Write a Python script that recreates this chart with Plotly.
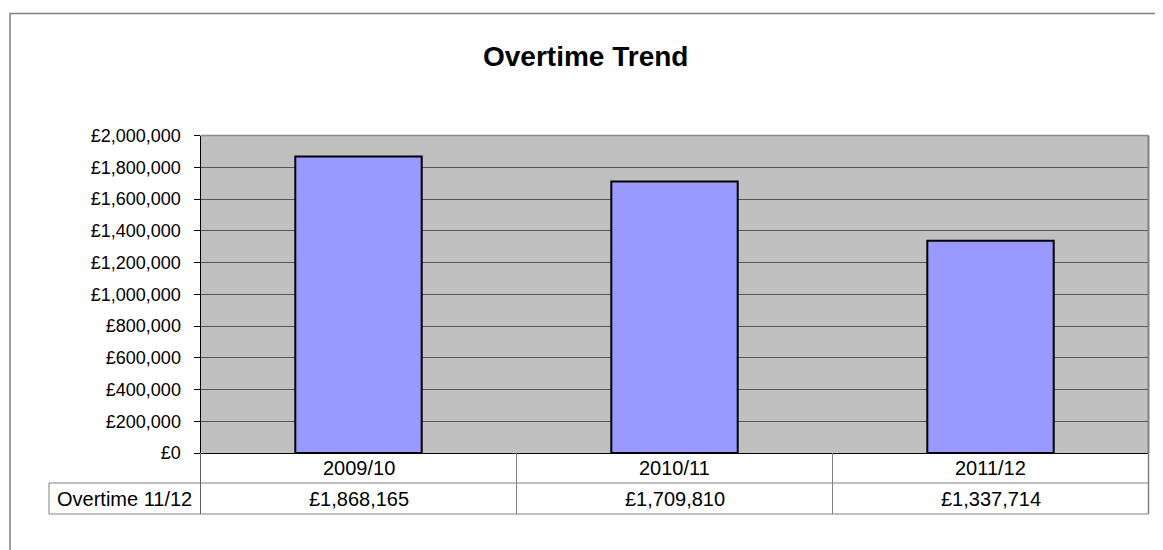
import plotly.graph_objects as go

categories = ["2009/10", "2010/11", "2011/12"]
values = [1868165, 1709810, 1337714]
series_name = "Overtime 11/12"
title_text = "Overtime Trend"
y_ticks = list(range(0, 2000001, 200000))

# page body has an 8px margin; the figure is sized to fill the rest of the window
OFF = 8
W, H = 1163 - OFF, 550 - OFF
FONT = "Liberation Sans, Arial, sans-serif"

def px_x(p):
    return (p - OFF) / W

def px_y(p):
    return 1 - (p - OFF) / H

plot_left, plot_right = 200.5, 1148.5
plot_top, plot_bottom = 135.5, 453
row1_bottom, row2_bottom = 483, 514
table_left = 49

fig = go.Figure()
fig.add_trace(go.Bar(
    x=list(range(len(categories))), y=values, width=0.4,
    marker=dict(color="#9999FF", line=dict(color="black", width=2)),
    showlegend=False, hoverinfo="skip",
))

fig.update_layout(
    width=W, height=H, margin=dict(l=0, r=0, t=0, b=0, pad=0),
    paper_bgcolor="white", plot_bgcolor="#C0C0C0",
    font=dict(family=FONT, color="black", size=18),
    xaxis=dict(domain=[px_x(plot_left), px_x(plot_right)], range=[-0.5, len(categories) - 0.5],
               showticklabels=False, ticks="", showgrid=False, zeroline=False, automargin=False,
               showline=True, linecolor="black", linewidth=1, fixedrange=True),
    yaxis=dict(domain=[px_y(plot_bottom), px_y(plot_top)], range=[0, 2000000],
               tickvals=y_ticks, ticktext=[f"£{v:,}" for v in y_ticks],
               ticks="outside", ticklen=6, tickcolor="black", tickwidth=1,
               ticklabelstandoff=9, automargin=False,
               tickfont=dict(size=18, family=FONT, color="black"),
               showgrid=True, gridcolor="#555555", gridwidth=1, zeroline=False,
               showline=True, linecolor="black", linewidth=1, fixedrange=True),
)

shapes = []
# outer chart border
shapes.append(dict(type="rect", xref="paper", yref="paper", x0=px_x(10), x1=px_x(1175),
                   y0=px_y(560), y1=px_y(13.5), line=dict(color="#808080", width=1.5)))
# plot area border (top & right)
shapes.append(dict(type="line", xref="paper", yref="paper", x0=px_x(plot_left), x1=px_x(plot_right),
                   y0=px_y(plot_top), y1=px_y(plot_top), line=dict(color="#8a8a8a", width=1.5)))
shapes.append(dict(type="line", xref="paper", yref="paper", x0=px_x(plot_right), x1=px_x(plot_right),
                   y0=px_y(plot_top), y1=px_y(plot_bottom), line=dict(color="#808080", width=2)))
# table lines
tcol = "#808080"
for yy in (row1_bottom, row2_bottom):
    shapes.append(dict(type="line", xref="paper", yref="paper", x0=px_x(table_left), x1=px_x(plot_right),
                       y0=px_y(yy), y1=px_y(yy), line=dict(color=tcol, width=1)))
shapes.append(dict(type="line", xref="paper", yref="paper", x0=px_x(table_left), x1=px_x(table_left),
                   y0=px_y(row1_bottom), y1=px_y(row2_bottom), line=dict(color=tcol, width=1)))
shapes.append(dict(type="line", xref="paper", yref="paper", x0=px_x(plot_left), x1=px_x(plot_left),
                   y0=px_y(plot_bottom), y1=px_y(row2_bottom), line=dict(color="#606060", width=1)))
shapes.append(dict(type="line", xref="paper", yref="paper", x0=px_x(plot_right), x1=px_x(plot_right),
                   y0=px_y(plot_bottom), y1=px_y(row2_bottom), line=dict(color=tcol, width=1.5)))
for i in range(len(categories) - 1):
    shapes.append(dict(type="line", xref="x", yref="paper", x0=i + 0.5, x1=i + 0.5,
                       y0=px_y(plot_bottom), y1=px_y(row2_bottom), line=dict(color=tcol, width=1)))
fig.update_layout(shapes=shapes)

ann = []
ann.append(dict(text=f"<b>{title_text}</b>", xref="paper", yref="paper", x=px_x(585), y=px_y(56),
                xanchor="center", yanchor="middle", showarrow=False,
                font=dict(size=28, family=FONT, color="black")))
ann.append(dict(text=series_name, xref="paper", yref="paper", x=px_x((table_left + plot_left) / 2),
                y=px_y((row1_bottom + row2_bottom) / 2), xanchor="center", yanchor="middle",
                showarrow=False, font=dict(size=20, family=FONT)))
for i, (c, v) in enumerate(zip(categories, values)):
    ann.append(dict(text=c, xref="x", yref="paper", x=i, y=px_y((plot_bottom + row1_bottom) / 2),
                    xanchor="center", yanchor="middle", showarrow=False, font=dict(size=20, family=FONT)))
    ann.append(dict(text=f"£{v:,}", xref="x", yref="paper", x=i, y=px_y((row1_bottom + row2_bottom) / 2),
                    xanchor="center", yanchor="middle", showarrow=False, font=dict(size=20, family=FONT)))
fig.update_layout(annotations=ann)

fig.write_html("out.html")
